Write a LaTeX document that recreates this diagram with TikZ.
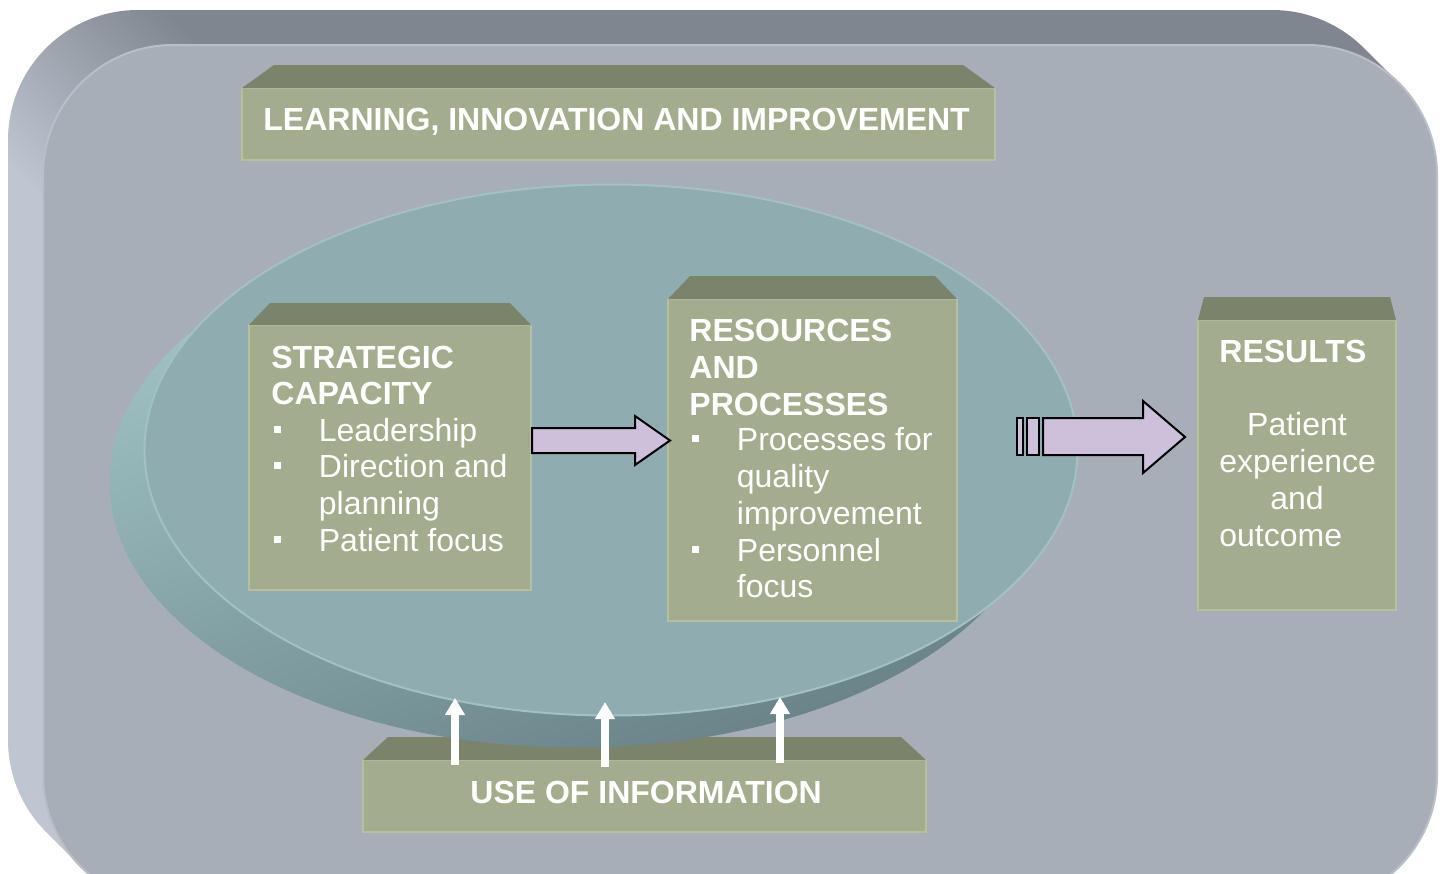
\documentclass[tikz,border=0pt]{standalone}
\usepackage{fontspec}
\setmainfont{Liberation Sans}
\usetikzlibrary{arrows.meta}

% palette
\definecolor{slabface}{HTML}{A8AEB8}
\definecolor{slabedge}{HTML}{B8BFC9}
\definecolor{slabtop}{HTML}{80868F}
\definecolor{slabside}{HTML}{BEC6D1}
\definecolor{discface}{HTML}{8FADB0}
\definecolor{discedge}{HTML}{A4C1C2}
\definecolor{rimlight}{HTML}{A2C5C7}
\definecolor{rimdark}{HTML}{688286}
\definecolor{boxfront}{HTML}{A3AD8E}
\definecolor{boxtop}{HTML}{7B836A}
\definecolor{boxline}{HTML}{B6BF9E}
\definecolor{lilac}{HTML}{CDC0DB}

% side walls of the slab: light on the left, dark on top
\pgfdeclarehorizontalshading{slabshade}{100bp}{color(0bp)=(slabside); color(48bp)=(slabside); color(52bp)=(slabtop); color(100bp)=(slabtop)}

\newcommand\bul{\makebox[23.75pt][l]{\hspace{1.5pt}\rule[4pt]{3.5pt}{3.5pt}}}
\newcommand\ind{\hspace*{23.75pt}}

% front face of a bevelled box plus its darker top
\newcommand\bevelbox[7]{%
  \node[frontface, minimum width=#4*0.5pt, minimum height=#5*0.5pt] (#1) at (#2,#3) {};
  \fill[boxbevel] (#1.north west) -- ++(#6,-#7) -- ++(#4-2*#6,0) -- (#1.north east) -- cycle;
}

\tikzset{
  frontface/.style={fill=boxfront, draw=boxline, line width=0.7pt, anchor=north west, inner sep=0pt, outer sep=0pt},
  boxbevel/.style={fill=boxtop},
  boxtext/.style={text=white, inner sep=0pt, anchor=base west, font=\fontsize{16}{18.4}\selectfont},
  boxhead/.style={boxtext, font=\bfseries\fontsize{16}{18.4}\selectfont},
  lilacarrow/.style={fill=lilac, draw=black, line width=1pt, line join=miter},
  infoarrow/.style={draw=white, line width=4pt, -{Triangle[width=9.5pt,length=8.5pt]}},
}

\begin{document}
\begin{tikzpicture}[x=0.5pt, y=-0.5pt]
\useasboundingbox (0,0) rectangle (1446,873);
\fill[white] (0,0) rectangle (1446,873);
\clip (0,0) rectangle (1446,873);

% slab: swept side walls, then the face
\begin{scope}
  \clip[rounded corners=65pt] \foreach \k in {0,1,...,35}{ (43-\k,45-\k) rectangle (1437-\k,905-\k) };
  \shade[shading=slabshade, shading angle=45] (-1340,-1340) rectangle (1460,1460);
\end{scope}
\fill[slabface, draw=slabedge, line width=1pt, rounded corners=65pt] (43,45) rectangle (1437,905);

% outer boxes
\bevelbox{learn}{242}{88}{753}{72}{32}{23}
\bevelbox{use}{363}{760}{563}{72}{25}{23}

% disc: rim underneath (light on the left, dark at the bottom), face on top
\shade[left color=rimlight, right color=rimdark, shading angle=20]
  (576,482) ellipse [x radius=233.25pt, y radius=132.75pt];
\fill[discface] (611,450) ellipse [x radius=233.25pt, y radius=132.75pt];
\draw[discedge, line width=1pt] (611,450) ellipse [x radius=233.25pt, y radius=132.75pt];

% inner boxes and results
\bevelbox{strat}{249}{325}{282}{265}{21}{22}
\bevelbox{res}{668}{299}{289}{322}{22}{23}
\bevelbox{resl}{1198}{320}{198}{290}{6}{23}

% block arrows
\path[lilacarrow] (532,428) -- (635,428) -- (635,416) -- (670,440.5) -- (635,465) -- (635,453) -- (532,453) -- cycle;
\path[lilacarrow] (1017,418) rectangle (1023,455);
\path[lilacarrow] (1027,418) rectangle (1039,455);
\path[lilacarrow] (1043,418) -- (1143,418) -- (1143,401) -- (1185,437) -- (1143,473) -- (1143,455) -- (1043,455) -- cycle;

% information feeding the disc
\coordinate (u1) at (455,765); \coordinate (d1) at (455,698);
\coordinate (u2) at (605,767); \coordinate (d2) at (605,702);
\coordinate (u3) at (780,763); \coordinate (d3) at (780,697);
\draw[infoarrow] (u1) -- (d1);
\draw[infoarrow] (u2) -- (d2);
\draw[infoarrow] (u3) -- (d3);

% texts
\node[boxhead] (learntxt) at (263,130) {LEARNING, INNOVATION AND IMPROVEMENT};
\node[boxhead] (usetxt) at (470,803) {USE OF INFORMATION};

\node[boxhead] (s1) at (271,368) {STRATEGIC};
\node[boxhead] (s2) at (271,404) {CAPACITY};
\node[boxtext] (s3) at (271,441) {\bul Leadership};
\node[boxtext] (s4) at (271,477) {\bul Direction and};
\node[boxtext] (s5) at (271,514) {\ind planning};
\node[boxtext] (s6) at (271,551) {\bul Patient focus};

\node[boxhead] (p1) at (689,341) {RESOURCES};
\node[boxhead] (p2) at (689,378) {AND};
\node[boxhead] (p3) at (689,415) {PROCESSES};
\node[boxtext] (p4) at (689,450) {\bul Processes for};
\node[boxtext] (p5) at (689,487) {\ind quality};
\node[boxtext] (p6) at (689,524) {\ind improvement};
\node[boxtext] (p7) at (689,561) {\bul Personnel};
\node[boxtext] (p8) at (689,597) {\ind focus};

\node[boxhead] (r1) at (1219,362) {RESULTS};
\node[boxtext, anchor=base] (r2) at (1297,435) {Patient};
\node[boxtext] (r3) at (1219,472) {experience};
\node[boxtext, anchor=base] (r4) at (1297,509) {and};
\node[boxtext] (r5) at (1219,546) {outcome};
\end{tikzpicture}
\end{document}
